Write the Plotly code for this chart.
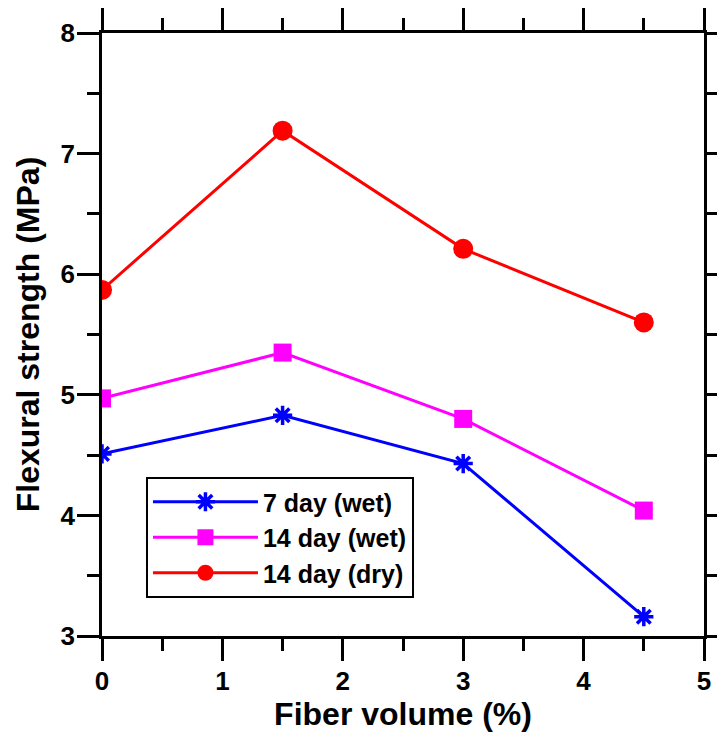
import plotly.graph_objects as go

fiber_volume = [0, 1.5, 3, 4.5]
day7_wet = [4.51, 4.83, 4.43, 3.16]
day14_wet = [4.97, 5.35, 4.80, 4.04]
day14_dry = [5.87, 7.19, 6.21, 5.60]

FONT = "Liberation Sans, Arial, sans-serif"

fig = go.Figure()
fig.add_trace(go.Scatter(x=fiber_volume, y=day7_wet, name="7 day (wet)", mode="lines+markers",
                         line=dict(color="#0000FF", width=3),
                         marker=dict(symbol="asterisk-open", size=16, color="#0000FF",
                                     line=dict(color="#0000FF", width=3.5))))
fig.add_trace(go.Scatter(x=fiber_volume, y=day14_wet, name="14 day (wet)", mode="lines+markers",
                         line=dict(color="#FF00FF", width=3),
                         marker=dict(symbol="square", size=18, color="#FF00FF")))
fig.add_trace(go.Scatter(x=fiber_volume, y=day14_dry, name="14 day (dry)", mode="lines+markers",
                         line=dict(color="#FF0000", width=3),
                         marker=dict(symbol="circle", size=20, color="#FF0000")))

axis_common = dict(
    showline=True, linecolor="black", linewidth=2.5, mirror="ticks",
    ticks="outside", ticklen=22, tickwidth=2.5, tickcolor="black",
    showgrid=False, zeroline=False, automargin=False,
    tickfont=dict(family=FONT, size=26, color="black", weight="bold"),
)

fig.update_xaxes(range=[0, 5], dtick=1, tick0=0,
                 minor=dict(ticks="outside", ticklen=12, tickwidth=2.5, tickcolor="black", dtick=0.5),
                 title=dict(text="Fiber volume (%)", font=dict(family=FONT, size=32, color="black", weight="bold"),
                            standoff=8),
                 ticklabelstandoff=-2,
                 **axis_common)
fig.update_yaxes(range=[3, 8], dtick=1, tick0=3,
                 minor=dict(ticks="outside", ticklen=12, tickwidth=2.5, tickcolor="black", dtick=0.5),
                 title=dict(text="Flexural strength (MPa)", font=dict(family=FONT, size=32, color="black", weight="bold"),
                            standoff=12),
                 ticklabelstandoff=-3,
                 **axis_common)

fig.update_layout(
    width=717, height=737,
    margin=dict(l=102, r=13, t=33, b=101),
    plot_bgcolor="white", paper_bgcolor="white",
    showlegend=True,
    legend=dict(x=0.073, y=0.063, xanchor="left", yanchor="bottom",
                bordercolor="black", borderwidth=2, bgcolor="white",
                font=dict(family=FONT, size=25, color="black", weight="bold"),
                itemwidth=105, tracegroupgap=0),
)

fig.write_html("out.html")
